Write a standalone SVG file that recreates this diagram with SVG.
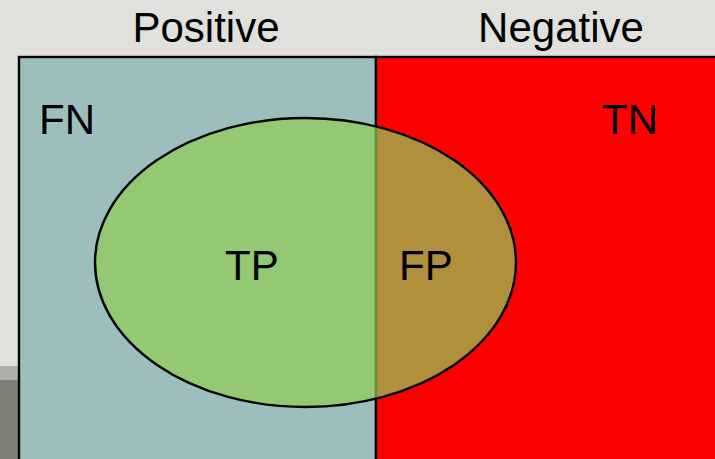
<svg xmlns="http://www.w3.org/2000/svg" width="715" height="459" viewBox="0 0 715 459">
<style>
text{font-family:"Liberation Sans",Arial,sans-serif;font-size:42px;fill:#000}
.frame{stroke:#000;stroke-width:2.4}
</style>
<rect x="0" y="0" width="715" height="459" fill="#e0e0dc"/>
<rect x="0" y="366" width="19" height="14" fill="#aeaeaa"/>
<rect x="0" y="380" width="19" height="79" fill="#7f7f78"/>
<g id="positive">
<rect class="frame" x="19" y="57" width="357" height="410" fill="#9cbfbd"/>
<text x="206" y="42" text-anchor="middle">Positive</text>
<text x="39" y="134">FN</text>
</g>
<g id="negative">
<rect class="frame" x="376" y="57" width="345" height="410" fill="#ff0000"/>
<text x="561" y="42" text-anchor="middle">Negative</text>
<text x="602" y="134">TN</text>
</g>
<g id="predicted">
<ellipse cx="305.5" cy="262.5" rx="210.5" ry="144.5" fill="#8fcd53" fill-opacity="0.7" stroke="#000" stroke-width="2.4"/>
<text x="225" y="280">TP</text>
<text x="399" y="280">FP</text>
</g>
<g id="connectors"/>
</svg>
